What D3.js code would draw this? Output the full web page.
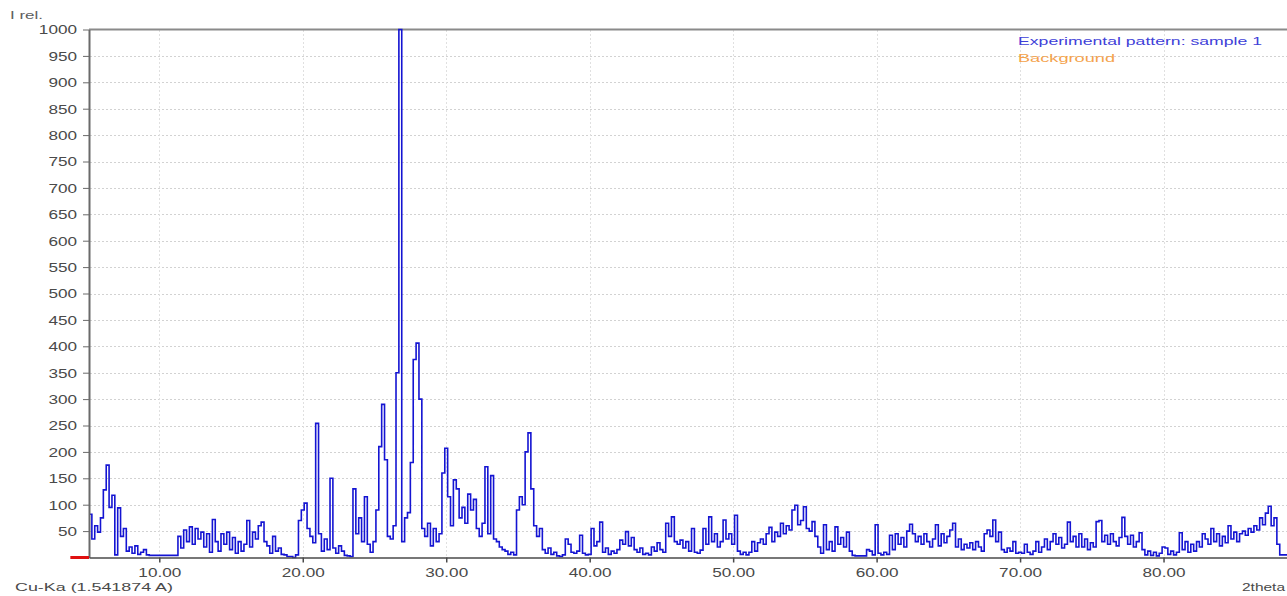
<!DOCTYPE html>
<html>
<head>
<meta charset="utf-8">
<script src="https://cdn.jsdelivr.net/npm/d3@7"></script>
<style>
  html, body { margin: 0; padding: 0; background: #fff; overflow: hidden; }
  svg { display: block; }
</style>
</head>
<body>
<svg id="chart" width="1287" height="596"></svg>
<script>
// ---------------- DATA ----------------
const xTicks = [10, 20, 30, 40, 50, 60, 70, 80];
const yTicks = [50, 100, 150, 200, 250, 300, 350, 400, 450, 500, 550, 600, 650, 700, 750, 800, 850, 900, 950, 1000];
const scanStart = 5.1;   // 2theta of first sample
const scanStep = 0.2;    // 2theta step between samples
// relative intensity, one row per degree (5.1 ... 88.9)
const intensity = [
  82, 35, 60, 48, 75,
  128, 175, 95, 118, 5,
  94, 40, 55, 12, 20,
  8, 22, 6, 10, 15,
  5, 4, 4, 4, 4,
  4, 4, 4, 4, 4,
  4, 40, 18, 52, 30,
  58, 25, 55, 35, 48,
  20, 45, 10, 72, 30,
  12, 45, 25, 48, 15,
  38, 8, 30, 12, 25,
  70, 20, 48, 35, 60,
  67, 30, 22, 8, 40,
  12, 18, 6, 5, 2,
  2, 0, 5, 70, 90,
  103, 55, 40, 28, 254,
  45, 12, 35, 15, 150,
  18, 8, 22, 12, 4,
  3, 2, 130, 45, 75,
  30, 115, 25, 10, 30,
  90, 210, 290, 185, 40,
  35, 60, 350, 1000, 30,
  75, 85, 180, 375, 406,
  300, 55, 40, 65, 22,
  55, 30, 45, 160, 207,
  115, 60, 147, 130, 75,
  95, 65, 120, 90, 110,
  55, 40, 65, 172, 45,
  155, 35, 30, 20, 15,
  12, 6, 10, 5, 90,
  115, 100, 200, 236, 130,
  60, 40, 55, 15, 8,
  18, 6, 10, 3, 2,
  5, 35, 25, 10, 8,
  12, 42, 8, 5, 6,
  55, 22, 30, 67, 10,
  18, 6, 12, 8, 15,
  33, 25, 49, 22, 38,
  15, 10, 18, 6, 8,
  5, 20, 12, 28, 15,
  10, 65, 40, 77, 30,
  25, 33, 18, 30, 12,
  55, 10, 8, 14, 55,
  25, 77, 30, 45, 20,
  30, 71, 35, 45, 25,
  80, 12, 6, 10, 5,
  10, 30, 12, 28, 35,
  25, 45, 57, 30, 48,
  40, 65, 45, 60, 52,
  90, 99, 62, 70, 96,
  55, 50, 68, 40, 20,
  8, 62, 15, 30, 12,
  58, 25, 38, 20, 48,
  12, 4, 3, 3, 3,
  3, 15, 12, 5, 62,
  8, 5, 10, 6, 42,
  15, 45, 25, 38, 20,
  50, 63, 45, 30, 40,
  25, 45, 30, 20, 35,
  62, 22, 45, 28, 40,
  52, 65, 20, 35, 15,
  25, 18, 28, 15, 30,
  20, 12, 45, 52, 40,
  71, 30, 48, 15, 10,
  18, 12, 30, 8, 10,
  8, 25, 10, 6, 12,
  30, 10, 20, 35, 15,
  30, 45, 25, 38, 18,
  25, 67, 30, 40, 20,
  45, 20, 35, 15, 28,
  20, 68, 70, 30, 42,
  25, 45, 30, 22, 38,
  76, 40, 25, 42, 20,
  30, 47, 15, 5, 12,
  4, 10, 3, 8, 20,
  18, 6, 12, 5, 10,
  47, 15, 30, 10, 25,
  12, 30, 20, 45, 35,
  25, 55, 30, 45, 22,
  40, 28, 60, 35, 48,
  30, 45, 50, 42, 55,
  48, 60, 52, 75, 62,
  84, 97, 60, 75, 25,
  5, 5, 5, 5, 5
];
const backgroundX = [3.8, 5.1];
const backgroundY = [0, 0];
const legendLabels = ["Experimental pattern: sample 1", "Background"];
const legendColors = ["#4040d8", "#f4a24c"];

// ---------------- CHART ----------------
const SX = 1.43; // horizontal stretch of the original picture's text
const svg = d3.select("#chart");
const font = "'Liberation Sans', Arial, sans-serif";

const x = d3.scaleLinear().domain([5.1, 90]).range([89, 1307]);
const y = d3.scaleLinear().domain([0, 1000]).range([557.5, 29.5]);

// grid
const grid = svg.append("g");
grid.selectAll("line.h").data(yTicks.filter(d => d < 1000)).join("line")
  .attr("x1", 90).attr("x2", 1287)
  .attr("y1", d => Math.round(y(d)) + 0.5).attr("y2", d => Math.round(y(d)) + 0.5)
  .attr("stroke", "#d2d2d2").attr("stroke-width", 1).attr("stroke-dasharray", "2,2");
grid.selectAll("line.v").data(xTicks).join("line")
  .attr("x1", d => Math.round(x(d)) + 0.5).attr("x2", d => Math.round(x(d)) + 0.5)
  .attr("y1", 30).attr("y2", 557)
  .attr("stroke", "#e0e0e0").attr("stroke-width", 1).attr("stroke-dasharray", "2,2");

// top border
svg.append("line").attr("x1", 89).attr("x2", 1287).attr("y1", 29.5).attr("y2", 29.5)
  .attr("stroke", "#8a8a8a").attr("stroke-width", 2);

// data line
const pts = intensity.map((v, i) => [scanStart + i * scanStep, v]);
const line = d3.line().x(d => x(d[0])).y(d => y(d[1])).curve(d3.curveStepAfter);
svg.append("path").datum(pts)
  .attr("d", line)
  .attr("fill", "none")
  .attr("stroke", "#1414d2")
  .attr("stroke-width", 1.6)
  .attr("stroke-linejoin", "miter");

// axes
const yAxis = d3.axisLeft(y).tickValues(yTicks).tickFormat(d3.format("d")).tickSize(6).tickSizeOuter(0);
const gy = svg.append("g").attr("transform", "translate(89,0)").call(yAxis);
gy.select(".domain").attr("stroke", "#6a6a6a").attr("stroke-width", 2);
gy.selectAll(".tick line").attr("stroke", "#6a6a6a").attr("stroke-width", 1);
gy.selectAll(".tick text")
  .attr("x", -12 / SX).attr("dy", "0.36em")
  .attr("transform", `scale(${SX},1)`)
  .attr("fill", "#4a4a4a").style("font-family", font).style("font-size", "12px");

const xAxis = d3.axisBottom(x).tickValues(xTicks).tickFormat(d3.format(".2f")).tickSize(5).tickSizeOuter(0);
const gx = svg.append("g").attr("transform", "translate(0,557.5)").call(xAxis);
gx.select(".domain").attr("stroke", "#4a4a4a").attr("stroke-width", 1.5);
gx.selectAll(".tick line").attr("stroke", "#4a4a4a").attr("stroke-width", 1.5);
gx.selectAll(".tick text")
  .attr("y", 20).attr("dy", 0)
  .attr("transform", `scale(${SX},1)`)
  .attr("fill", "#4a4a4a").style("font-family", font).style("font-size", "12px");

// background (red) trace
svg.append("path").datum(backgroundX.map((v, i) => [v, backgroundY[i]]))
  .attr("d", d3.line().x(d => x(d[0])).y(d => y(d[1])))
  .attr("stroke", "#e01010").attr("stroke-width", 3).attr("fill", "none");

// labels
svg.append("text").attr("x", 10).attr("y", 19).text("I rel.")
  .attr("textLength", 33).attr("lengthAdjust", "spacingAndGlyphs")
  .attr("fill", "#606060").style("font-family", font).style("font-size", "10px");
svg.append("text").attr("x", 15).attr("y", 591).text("Cu-Ka (1.541874 A)")
  .attr("textLength", 158).attr("lengthAdjust", "spacingAndGlyphs")
  .attr("fill", "#4a4a4a").style("font-family", font).style("font-size", "11px");
svg.append("text").attr("x", 1242).attr("y", 591).text("2theta")
  .attr("textLength", 43).attr("lengthAdjust", "spacingAndGlyphs")
  .attr("fill", "#4a4a4a").style("font-family", font).style("font-size", "11px");

// legend
const legendWidths = [244, 97];
svg.selectAll("text.legend").data(legendLabels).join("text")
  .attr("class", "legend")
  .attr("x", 1018).attr("y", (d, i) => 45 + i * 17)
  .attr("textLength", (d, i) => legendWidths[i]).attr("lengthAdjust", "spacingAndGlyphs")
  .attr("fill", (d, i) => legendColors[i])
  .style("font-family", font).style("font-size", "10.5px")
  .text(d => d);
</script>
</body>
</html>
